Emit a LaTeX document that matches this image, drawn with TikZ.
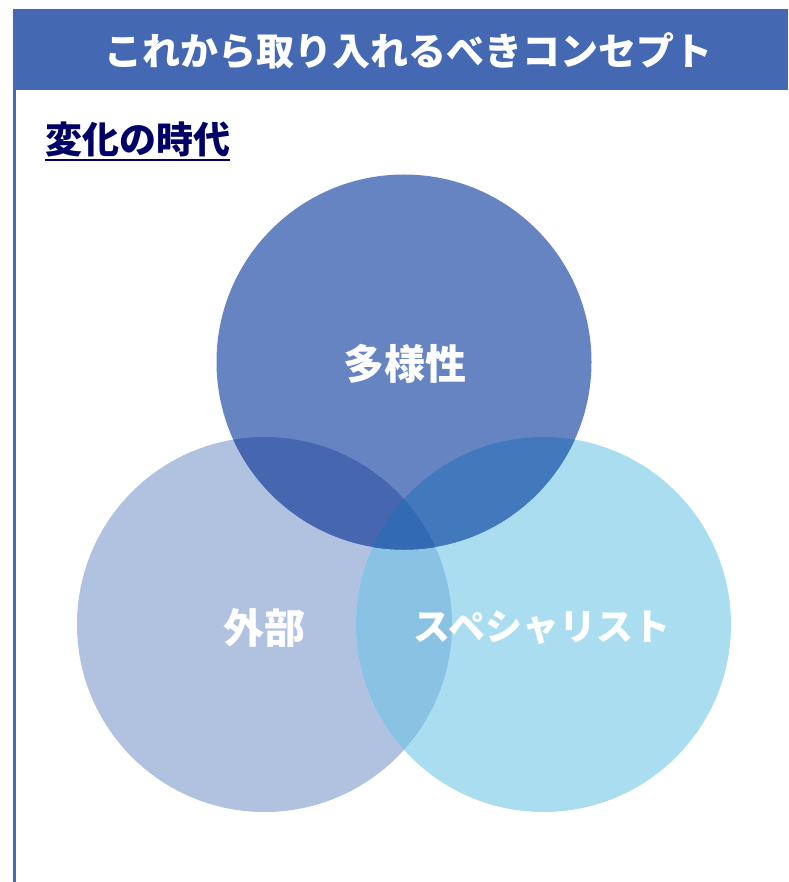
\documentclass[tikz,border=0pt]{standalone}
\usepackage{fontspec}
\newfontfamily\jpfont{Noto Sans CJK JP}
\definecolor{barblue}{RGB}{68,104,178}
\definecolor{navytext}{RGB}{0,0,102}
\definecolor{topblue}{RGB}{103,132,194}
\definecolor{leftblue}{RGB}{177,193,224}
\definecolor{rightblue}{RGB}{169,221,239}
\definecolor{tlblue}{RGB}{70,102,176}
\definecolor{trblue}{RGB}{66,120,188}
\definecolor{lrblue}{RGB}{138,194,228}
\definecolor{midblue}{RGB}{51,106,180}
\tikzset{
    lbl/.style={text=white, inner sep=0pt, font=\jpfont\bfseries\fontsize{41}{41}\selectfont},
    ring/.style={radius=187.5}
}

\begin{document}
\begin{tikzpicture}[x=1pt, y=-1pt]
    \useasboundingbox (0,0) rectangle (788,882);
    % frame
    \fill [barblue] (13,9) rectangle (788,90);
    \draw [barblue, line width=3pt] (14.5,90) -- (14.5,882);
    \node [lbl, font=\jpfont\bfseries\fontsize{38}{38}\selectfont] (title) at (408,51) {これから取り入れるべきコンセプト};

    \node [text=navytext, inner sep=0pt, anchor=base west,
      font=\jpfont\bfseries\fontsize{37}{37}\selectfont] (era) at (45,154) {変化の時代};
    \draw [navytext, line width=2pt] ([yshift=-6pt]era.base west) -- ([yshift=-6pt]era.base east);

    % circles
    \coordinate (ctop) at (404,362);
    \coordinate (cleft) at (264.5,624.5);
    \coordinate (cright) at (543.5,624.5);
    \fill [leftblue] (cleft) circle [ring];
    \fill [rightblue] (cright) circle [ring];
    \fill [topblue] (ctop) circle [ring];
    \begin{scope}
      \clip (cleft) circle [ring];
      \fill [lrblue] (cright) circle [ring];
      \fill [tlblue] (ctop) circle [ring];
      \clip (cright) circle [ring];
      \fill [midblue] (ctop) circle [ring];
    \end{scope}
    \begin{scope}
      \clip (ctop) circle [ring];
      \fill [trblue] (cright) circle [ring];
      \clip (cleft) circle [ring];
      \fill [midblue] (cright) circle [ring];
    \end{scope}

    \node [lbl] (diversity) at (405,364) {多様性};
    \node [lbl] (outside) at (264,628) {外部};
    \node [lbl, font=\jpfont\bfseries\fontsize{37}{37}\selectfont] (expert) at (542,628) {スペシャリスト};
\end{tikzpicture}
\end{document}
